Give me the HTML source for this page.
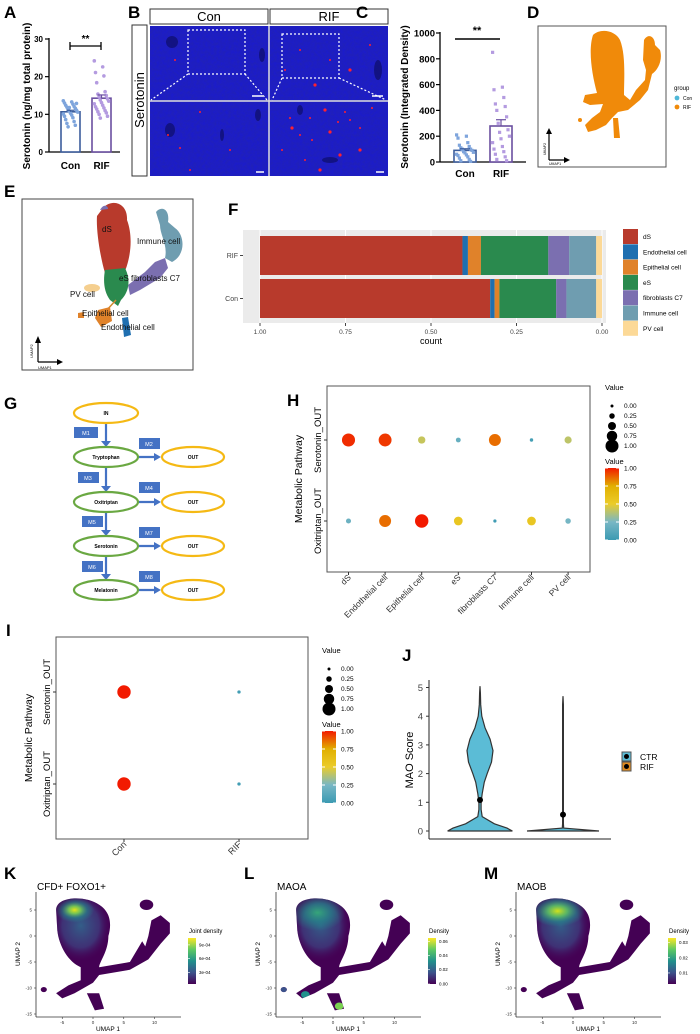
<!DOCTYPE html>
<html><head><meta charset="utf-8">
<style>
html,body{margin:0;padding:0;background:#fff;}
svg{display:block;font-family:"Liberation Sans",Arial,sans-serif;}
.pl{font-weight:bold;font-size:17px;fill:#000;}
</style></head>
<body>
<svg id="fig" width="700" height="1034" viewBox="0 0 700 1034" xmlns="http://www.w3.org/2000/svg">
<defs>
  <filter id="tex" x="0" y="0" width="100%" height="100%">
    <feTurbulence type="fractalNoise" baseFrequency="0.35" numOctaves="2" seed="3"/>
    <feColorMatrix type="matrix" values="0 0 0 0 0.02  0 0 0 0 0.02  0 0 0 0 0.35  0 0 0 0.6 0"/>
  </filter>
  <linearGradient id="zis" x1="0" y1="1" x2="0" y2="0">
    <stop offset="0" stop-color="#3B9AB2"/><stop offset="0.25" stop-color="#78B7C5"/>
    <stop offset="0.5" stop-color="#EBCC2A"/><stop offset="0.75" stop-color="#E1AF00"/>
    <stop offset="1" stop-color="#F21A00"/>
  </linearGradient>
  <linearGradient id="vir" x1="0" y1="1" x2="0" y2="0">
    <stop offset="0" stop-color="#440154"/><stop offset="0.25" stop-color="#3b528b"/>
    <stop offset="0.5" stop-color="#21918c"/><stop offset="0.75" stop-color="#5ec962"/>
    <stop offset="1" stop-color="#fde725"/>
  </linearGradient>
  <radialGradient id="body"><stop offset="0" stop-color="#31688e" stop-opacity="0.9"/><stop offset="0.6" stop-color="#3b528b" stop-opacity="0.6"/><stop offset="1" stop-color="#440154" stop-opacity="0"/></radialGradient>
  <radialGradient id="glowK"><stop offset="0" stop-color="#e6e419"/><stop offset="0.3" stop-color="#7ad151" stop-opacity="0.9"/><stop offset="0.65" stop-color="#21918c" stop-opacity="0.5"/><stop offset="1" stop-color="#21918c" stop-opacity="0"/></radialGradient>
  <radialGradient id="glowL"><stop offset="0" stop-color="#35b779" stop-opacity="0.85"/><stop offset="0.5" stop-color="#21918c" stop-opacity="0.6"/><stop offset="1" stop-color="#21918c" stop-opacity="0"/></radialGradient>
  <radialGradient id="glowM"><stop offset="0" stop-color="#d2e21b"/><stop offset="0.35" stop-color="#5ec962" stop-opacity="0.85"/><stop offset="0.7" stop-color="#21918c" stop-opacity="0.5"/><stop offset="1" stop-color="#21918c" stop-opacity="0"/></radialGradient>
  <clipPath id="umapClip">
    <path d="M-6,5 C-6,7.8 -1,7.8 1,6 C3,4.5 3,2 2.5,0 C2.5,-3 1,-5 1,-6 L6,-5 L7,-3 L8,-1 L8.5,-2 L9,0 L9.5,3 L11,4 L12.5,2.5 L12.5,0.5 L11,-1.5 L10,-3 L9,-4.5 L6,-6.5 L1,-7.5 L0,-9 L-3,-11 L-5,-12 L-6,-11 L-4,-9.5 L-2,-8.5 L-2,-6 C-4,-5 -5.5,-2 -5.8,1 Z"/>
    <path d="M-1,-11 L1,-11 L1.8,-14 L0.3,-14.3 Z"/>
    <ellipse cx="8.7" cy="6" rx="1.1" ry="1"/>
    <ellipse cx="-8" cy="-10.3" rx="0.5" ry="0.5"/>
  </clipPath>
</defs>

<!-- Panel A -->
<text class="pl" x="4" y="18">A</text>
<g id="panelA">
  <text transform="translate(30,96) rotate(-90)" text-anchor="middle" font-size="10" font-weight="bold">Serotonin (ng/mg total protein)</text>
  <line x1="49" y1="38" x2="49" y2="152" stroke="#000" stroke-width="1.3"/>
  <line x1="49" y1="152" x2="120" y2="152" stroke="#000" stroke-width="1.3"/>
</g>

<!-- Panel B -->
<text class="pl" x="128" y="18">B</text>
<g>
  <rect x="150" y="9" width="118" height="15" fill="#fff" stroke="#333"/>
  <text x="209" y="21" text-anchor="middle" font-size="13">Con</text>
  <rect x="270" y="9" width="118" height="15" fill="#fff" stroke="#333"/>
  <text x="329" y="21" text-anchor="middle" font-size="13">RIF</text>
  <rect x="132" y="25" width="15" height="151" fill="#fff" stroke="#333"/>
  <text transform="translate(144,100) rotate(-90)" text-anchor="middle" font-size="13">Serotonin</text>
  <g>
    <rect x="150" y="26" width="238" height="150" fill="#1a1ad0"/>
    <rect x="150" y="26" width="238" height="150" filter="url(#tex)"/>
    <g fill="#0a0a50" opacity="0.55">
      <ellipse cx="172" cy="42" rx="6" ry="6"/><ellipse cx="262" cy="55" rx="3" ry="7"/>
      <ellipse cx="378" cy="70" rx="4" ry="10"/><ellipse cx="170" cy="130" rx="5" ry="7"/>
      <ellipse cx="222" cy="135" rx="2" ry="6"/><ellipse cx="258" cy="115" rx="3" ry="6"/>
      <ellipse cx="330" cy="160" rx="8" ry="3"/><ellipse cx="300" cy="110" rx="3" ry="5"/>
    </g>
    <line x1="150" y1="101" x2="388" y2="101" stroke="#ddd" stroke-width="1.5"/>
    <line x1="269" y1="26" x2="269" y2="176" stroke="#ddd" stroke-width="1.5"/>
    <rect x="188" y="30" width="57" height="44" fill="none" stroke="#fff" stroke-dasharray="2,2" stroke-width="1.2"/>
    <path d="M188,74 L151,100 M245,74 L267,100" stroke="#fff" stroke-dasharray="2,2" stroke-width="1.2"/>
    <rect x="282" y="34" width="57" height="44" fill="none" stroke="#fff" stroke-dasharray="2,2" stroke-width="1.2"/>
    <path d="M282,78 L272,100 M339,78 L386,100" stroke="#fff" stroke-dasharray="2,2" stroke-width="1.2"/>
    <line x1="252" y1="96" x2="263" y2="96" stroke="#fff" stroke-width="1.5"/>
    <line x1="372" y1="96" x2="383" y2="96" stroke="#fff" stroke-width="1.5"/>
    <line x1="256" y1="172" x2="264" y2="172" stroke="#fff" stroke-width="1.5"/>
    <line x1="376" y1="172" x2="384" y2="172" stroke="#fff" stroke-width="1.5"/>
    <g id="redDots" fill="#ff2030"></g>
  </g>
</g>

<!-- Panel C -->
<text class="pl" x="356" y="18">C</text>
<g id="panelC">
  <text transform="translate(408,97) rotate(-90)" text-anchor="middle" font-size="10" font-weight="bold">Serotonin (Integrated Density)</text>
  <line x1="440" y1="32" x2="440" y2="162" stroke="#000" stroke-width="1.3"/>
  <line x1="440" y1="162" x2="526" y2="162" stroke="#000" stroke-width="1.3"/>
</g>

<!-- Panel D -->
<text class="pl" x="527" y="18">D</text>
<g>
  <rect x="538" y="26" width="128" height="141" fill="#fff" stroke="#555"/>
  <path d="M593,35 C600,28 615,30 620,40 C626,55 624,80 624,95 L630,100 L636,90 L645,80 L646,70 L643,60 L644,40 C648,33 655,36 655,45 L660,50 C663,60 658,70 652,74 L648,90 L640,100 L628,110 L618,112 L612,118 L606,125 L596,130 L588,132 L585,125 L592,118 L600,112 L603,104 L590,105 L583,102 L585,95 L597,93 C592,75 588,50 593,35 Z" fill="#f08a0a"/>
  <path d="M613,118 L618,118 L620,138 L614,138 Z" fill="#f08a0a"/>
  <circle cx="580" cy="120" r="2" fill="#f08a0a"/>
  <path d="M549,160 L549,131 M549,160 L567,160" stroke="#000" stroke-width="1.2"/>
  <path d="M546,134 L549,128 L552,134 Z M564,157 L570,160 L564,163 Z" fill="#000"/>
  <text x="549" y="165" font-size="3.5">UMAP1</text>
  <text transform="translate(546,155) rotate(-90)" font-size="3.5">UMAP2</text>
  <text x="674" y="90" font-size="6">group</text>
  <circle cx="677" cy="98" r="2.4" fill="#4fb8d8"/>
  <text x="683" y="100" font-size="5">Con</text>
  <circle cx="677" cy="107" r="2.4" fill="#f08a0a"/>
  <text x="683" y="109" font-size="5">RIF</text>
</g>

<!-- Panel E -->
<text class="pl" x="4" y="197">E</text>
<g>
  <rect x="22" y="199" width="171" height="171" fill="#fff" stroke="#444"/>
  <path d="M156,212 C162,205 170,210 168,222 L175,228 C185,235 186,255 172,262 L165,258 C168,245 160,235 160,225 Z" fill="#6f9db0"/>
  <path d="M128,285 L145,272 L155,262 L165,258 L168,268 L160,278 L140,290 L130,295 Z" fill="#7b6fb0"/>
  <path d="M103,208 C112,198 128,203 127,220 C133,236 131,256 125,271 L105,273 C100,256 96,230 97,216 Z" fill="#b83a2c"/>
  <path d="M100,210 C103,204 108,205 108,209 Z" fill="#7b6fb0"/>
  <path d="M105,270 L125,268 C131,280 129,292 121,300 L118,306 L110,300 C104,292 103,281 105,270 Z" fill="#2a8a4e"/>
  <ellipse cx="92" cy="288" rx="8" ry="4" fill="#f5cf8f"/>
  <path d="M116,300 L106,311" stroke="#d08a30" stroke-width="1.5"/>
  <path d="M98,310 L110,307 L112,321 L101,327 L95,318 Z M78,313 L84,312 L84,318 L78,318 Z" fill="#e0822a"/>
  <path d="M122,318 L128,317 L131,335 L124,337 Z" fill="#1f6fb0"/>
  <g font-size="8" fill="#111">
    <text x="102" y="232">dS</text>
    <text x="137" y="244">Immune cell</text>
    <text x="119" y="281">eS  fibroblasts C7</text>
    <text x="70" y="297">PV cell</text>
    <text x="82" y="316">Epithelial cell</text>
    <text x="101" y="330">Endothelial cell</text>
  </g>
  <path d="M38,362 L38,340 M38,362 L60,362" stroke="#000" stroke-width="1.2"/>
  <path d="M35,343 L38,336 L41,343 Z M57,359 L63,362 L57,365 Z" fill="#000"/>
  <text x="38" y="369" font-size="4">UMAP1</text>
  <text transform="translate(33,358) rotate(-90)" font-size="4">UMAP2</text>
</g>

<!-- Panel F -->
<text class="pl" x="228" y="215">F</text>
<g id="panelF">
  <rect x="243" y="230" width="363" height="93" fill="#ebebeb"/>
  <text x="431" y="344" font-size="9" text-anchor="middle">count</text>
</g>

<!-- Panel G -->
<text class="pl" x="4" y="409">G</text>
<g font-size="5" font-weight="bold" text-anchor="middle">
  <g stroke="#4472c4" stroke-width="2.2" fill="none">
    <line x1="106" y1="423" x2="106" y2="442"/><line x1="106" y1="467" x2="106" y2="487"/>
    <line x1="106" y1="512" x2="106" y2="531"/><line x1="106" y1="556" x2="106" y2="575"/>
    <line x1="138" y1="457" x2="155" y2="457"/><line x1="138" y1="502" x2="155" y2="502"/>
    <line x1="138" y1="546" x2="155" y2="546"/><line x1="138" y1="590" x2="155" y2="590"/>
  </g>
  <g fill="#4472c4">
    <path d="M101,441 L111,441 L106,447 Z"/><path d="M101,486 L111,486 L106,492 Z"/>
    <path d="M101,530 L111,530 L106,536 Z"/><path d="M101,574 L111,574 L106,580 Z"/>
    <path d="M154,453 L161,457 L154,461 Z"/><path d="M154,498 L161,502 L154,506 Z"/>
    <path d="M154,542 L161,546 L154,550 Z"/><path d="M154,586 L161,590 L154,594 Z"/>
    <rect x="74" y="427" width="24" height="11"/><rect x="139" y="438" width="21" height="11"/>
    <rect x="78" y="472" width="21" height="11"/><rect x="139" y="482" width="21" height="11"/>
    <rect x="82" y="516" width="21" height="11"/><rect x="139" y="527" width="21" height="11"/>
    <rect x="82" y="561" width="21" height="11"/><rect x="139" y="571" width="21" height="11"/>
  </g>
  <g fill="#fff" font-weight="normal" font-size="5.5">
    <text x="86" y="435">M1</text><text x="149" y="446">M2</text>
    <text x="88" y="480">M3</text><text x="149" y="490">M4</text>
    <text x="92" y="524">M5</text><text x="149" y="535">M7</text>
    <text x="92" y="569">M6</text><text x="149" y="579">M8</text>
  </g>
  <g fill="#fff" stroke-width="2.2">
    <ellipse cx="106" cy="413" rx="32" ry="10" stroke="#f5b914"/>
    <ellipse cx="106" cy="457" rx="32" ry="10" stroke="#6aa842"/>
    <ellipse cx="106" cy="502" rx="32" ry="10" stroke="#6aa842"/>
    <ellipse cx="106" cy="546" rx="32" ry="10" stroke="#6aa842"/>
    <ellipse cx="106" cy="590" rx="32" ry="10" stroke="#6aa842"/>
    <ellipse cx="193" cy="457" rx="31" ry="10" stroke="#f5b914"/>
    <ellipse cx="193" cy="502" rx="31" ry="10" stroke="#f5b914"/>
    <ellipse cx="193" cy="546" rx="31" ry="10" stroke="#f5b914"/>
    <ellipse cx="193" cy="590" rx="31" ry="10" stroke="#f5b914"/>
  </g>
  <text x="106" y="415">IN</text><text x="106" y="459">Tryptophan</text><text x="106" y="504">Oxitriptan</text>
  <text x="106" y="548">Serotonin</text><text x="106" y="592">Melatonin</text>
  <text x="193" y="459">OUT</text><text x="193" y="504">OUT</text><text x="193" y="548">OUT</text><text x="193" y="592">OUT</text>
</g>

<!-- Panel H -->
<text class="pl" x="287" y="406">H</text>
<g id="panelH">
  <rect x="327" y="386" width="263" height="186" fill="#fff" stroke="#555" stroke-width="1"/>
  <text transform="translate(302,479) rotate(-90)" text-anchor="middle" font-size="10.5">Metabolic Pathway</text>
</g>

<!-- Panel I -->
<text class="pl" x="6" y="636">I</text>
<g id="panelI">
  <rect x="56" y="637" width="252" height="202" fill="#fff" stroke="#555" stroke-width="1"/>
  <text transform="translate(32,738) rotate(-90)" text-anchor="middle" font-size="10.5">Metabolic Pathway</text>
</g>

<!-- Panel J -->
<text class="pl" x="402" y="661">J</text>
<g id="panelJ">
  <line x1="429" y1="680" x2="429" y2="839" stroke="#222" stroke-width="1"/>
  <line x1="429" y1="839" x2="611" y2="839" stroke="#222" stroke-width="1"/>
  <text transform="translate(413,760) rotate(-90)" text-anchor="middle" font-size="11">MAO  Score</text>
  <rect x="622" y="752" width="9" height="9" fill="#5bbcd6" stroke="#555"/>
  <circle cx="626.5" cy="756.5" r="2.5" fill="#000"/>
  <rect x="622" y="762" width="9" height="9" fill="#e08a20" stroke="#555"/>
  <circle cx="626.5" cy="766.5" r="2.5" fill="#000"/>
  <text x="640" y="760" font-size="8.5">CTR</text>
  <text x="640" y="770" font-size="8.5">RIF</text>
</g>

<!-- Panels K L M -->
<g id="umapPanels"></g>
</svg>

<script>
// ---------- data ----------
const aCategories = ["Con", "RIF"];
const aConValues = [13.6,13.3,13.0,12.7,12.4,12.1,11.9,11.6,11.3,11.1,10.9,10.6,10.3,10.1,9.8,9.5,9.1,8.6,8.1,7.6,7.1,6.7,12.9,11.8];
const aRifValues = [24.2,22.6,21.1,20.2,18.4,16.0,15.4,15.0,14.6,14.1,13.8,13.5,13.1,12.8,12.4,12.0,11.7,11.4,11.0,10.7,10.4,10.0,9.5,9.0];
const aTicks = [0,10,20,30];

const cConValues = [210,200,185,150,130,120,110,100,95,90,80,75,70,60,55,50,40,30,20,10,5,100];
const cRifValues = [850,580,560,500,450,430,400,350,300,250,230,200,180,150,120,100,80,60,40,20,10];
const cTicks = [0,200,400,600,800,1000];

const fGroups = ["RIF", "Con"];
const fCellTypes = ["dS","Endothelial cell","Epithelial cell","eS","fibroblasts C7","Immune cell","PV cell"];
const fRif = [0.592,0.016,0.038,0.197,0.061,0.079,0.017];
const fCon = [0.673,0.013,0.014,0.166,0.030,0.087,0.017];
const fTicks = [1.00,0.75,0.50,0.25,0.00];

const hCategories = ["dS","Endothelial cell","Epithelial cell","eS","fibroblasts C7","Immune cell","PV cell"];
const hPathways = ["Serotonin_OUT","Oxitriptan_OUT"];
const hSerotonin = [0.97,0.95,0.42,0.18,0.86,0.04,0.40];
const hOxitriptan = [0.20,0.86,1.00,0.55,0.02,0.55,0.24];
const legendValues = [0.00,0.25,0.50,0.75,1.00];

const iCategories = ["Con","RIF"];
const iSerotonin = [1.0,0.03];
const iOxitriptan = [1.0,0.03];

const jGroups = ["CTR","RIF"];
const jLevels = [0,0.1,0.25,0.5,0.75,1,1.3,1.7,2.0,2.4,2.8,3.2,3.6,4.0,4.4,4.8,5.05];
const jCtrDensity = [0.9,0.75,0.4,0.06,0.03,0.03,0.06,0.12,0.2,0.32,0.36,0.28,0.14,0.05,0.02,0.01,0.0];
const jRifDensity = [1.0,0.02,0.01,0.01,0.01,0.01,0.01,0.01,0.01,0.01,0.01,0.01,0.01,0.01,0.01,0.01,0.0];
const jMax = [5.05,4.7];
const jMeans = [1.08,0.57];
const jTicks = [0,1,2,3,4,5];

const kTitles = ["CFD+ FOXO1+","MAOA","MAOB"];
const kLetters = ["K","L","M"];
const kLegendTitles = ["Joint density","Density","Density"];
const kLegendLabels = [["9e-04","6e-04","3e-04"],["0.06","0.04","0.02","0.00"],["0.03","0.02","0.01"]];
const kLegendFracs = [[0.85,0.55,0.25],[0.92,0.62,0.31,0.0],[0.9,0.57,0.24]];
const kXTicks = [-5,0,5,10];
const kYTicks = [5,0,-5,-10,-15];

// ---------- helpers ----------
const NS = "http://www.w3.org/2000/svg";
function mk(tag, parent, attrs) {
  const e = document.createElementNS(NS, tag);
  for (const k in attrs) e.setAttribute(k, attrs[k]);
  parent.appendChild(e);
  return e;
}
function txt(parent, x, y, s, size, anchor, extra) {
  const t = mk("text", parent, Object.assign({x:x, y:y, "font-size":size, "text-anchor":anchor||"start"}, extra||{}));
  t.textContent = s;
  return t;
}
function zis(v) {
  const stops = [[0,[59,154,178]],[0.25,[120,183,197]],[0.5,[235,204,42]],[0.75,[225,175,0]],[1,[242,26,0]]];
  for (let i=1;i<stops.length;i++){
    if (v <= stops[i][0]) {
      const a=stops[i-1], b=stops[i], t=(v-a[0])/(b[0]-a[0]);
      const c=a[1].map((x,j)=>Math.round(x+(b[1][j]-x)*t));
      return "rgb("+c.join(",")+")";
    }
  }
  return "rgb(242,26,0)";
}
function mean(a){return a.reduce((s,v)=>s+v,0)/a.length;}
function sem(a){const m=mean(a);return Math.sqrt(a.reduce((s,v)=>s+(v-m)*(v-m),0)/(a.length-1))/Math.sqrt(a.length);}

// ---------- Panel A ----------
(function(){
  const g = document.getElementById("panelA");
  const yA = v => 152 - v*(113/30);
  const xA = i => [70.5, 101.5][i];
  aTicks.forEach(t=>{
    mk("line", g, {x1:45,y1:yA(t),x2:49,y2:yA(t),stroke:"#000","stroke-width":1.2});
    const tl = txt(g, 43, yA(t)+3, String(t), 8, "end", {"font-weight":"bold"});
    
    
  });
  const sets=[aConValues,aRifValues], cols=["#3c5d9c","#6a4fa0"], dots=["#7fa5dc","#b49be0"];
  sets.forEach((vals,i)=>{
    const m=mean(vals), s=sem(vals);
    const bar = mk("rect", g, {x:xA(i)-9.5,y:yA(m),width:19,height:152-yA(m),fill:"#fff",stroke:cols[i],"stroke-width":1.6});
    
    
    vals.forEach((v,j)=>{
      const d = mk("circle", g, {cx:xA(i)+((j*7)%13-6)*1.2,cy:yA(v),r:1.8,fill:dots[i]});
      
      
    });
    mk("line", g, {x1:xA(i),y1:yA(m+s),x2:xA(i),y2:yA(m),stroke:cols[i],"stroke-width":1.2});
    mk("line", g, {x1:xA(i)-4,y1:yA(m+s),x2:xA(i)+4,y2:yA(m+s),stroke:cols[i],"stroke-width":1.2});
    const lab = txt(g, xA(i), 169, aCategories[i], 10, "middle", {"font-weight":"bold"});
    
    
  });
  mk("path", g, {d:"M70,42 L70,50 M70,46 L101,46 M101,42 L101,50",stroke:"#000","stroke-width":1.3,fill:"none"});
  txt(g, 85.5, 42, "**", 10, "middle", {"font-weight":"bold"});
})();

// ---------- Panel B red dots ----------
(function(){
  const g = document.getElementById("redDots");
  const conDots=[[168,135],[180,148],[190,170],[230,150],[200,112],[175,60]];
  const rifDots=[[292,128],[300,135],[312,140],[325,110],[350,120],[360,128],[340,155],[305,160],[290,118],[330,132],[345,112],[310,118],[360,150],[300,50],[330,60],[350,70],[370,45],[285,70],[315,85],[372,108],[282,150],[320,170],[338,122]];
  conDots.concat(rifDots).forEach((p,i)=>{ mk("circle", g, {cx:p[0],cy:p[1],r: i>5 && i%3==0 ? 1.6 : 1}); });
})();

// ---------- Panel C ----------
(function(){
  const g = document.getElementById("panelC");
  const yC = v => 162 - v*0.129;
  const xC = i => [465, 501][i];
  cTicks.forEach(t=>{
    mk("line", g, {x1:436,y1:yC(t),x2:440,y2:yC(t),stroke:"#000","stroke-width":1.2});
    const tl = txt(g, 435, yC(t)+3.5, String(t), 9.5, "end", {"font-weight":"bold"});
    
    
  });
  const sets=[cConValues,cRifValues], cols=["#3c5d9c","#6a4fa0"], dots=["#7fa5dc","#b49be0"];
  sets.forEach((vals,i)=>{
    const m=mean(vals), s=sem(vals);
    const bar = mk("rect", g, {x:xC(i)-11,y:yC(m),width:22,height:162-yC(m),fill:"#fff",stroke:cols[i],"stroke-width":1.6});
    
    
    vals.forEach((v,j)=>{
      const d = mk("rect", g, {x:xC(i)+((j*7)%13-6)*1.4-1.6,y:yC(v)-1.6,width:3.2,height:3.2,fill:dots[i]});
      
      
    });
    mk("line", g, {x1:xC(i),y1:yC(m+s),x2:xC(i),y2:yC(m),stroke:cols[i],"stroke-width":1.2});
    mk("line", g, {x1:xC(i)-5,y1:yC(m+s),x2:xC(i)+5,y2:yC(m+s),stroke:cols[i],"stroke-width":1.2});
    const lab = txt(g, xC(i), 177, aCategories[i], 10, "middle", {"font-weight":"bold"});
    
    
  });
  mk("line", g, {x1:455,y1:39,x2:500,y2:39,stroke:"#000","stroke-width":1.5});
  txt(g, 477, 34, "**", 11, "middle", {"font-weight":"bold"});
})();

// ---------- Panel F ----------
(function(){
  const g = document.getElementById("panelF");
  const fColors = ["#b83a2c","#1f6fb0","#e0822a","#2a8a4e","#7b6fb0","#6f9db0","#fcd997"];
  const xF = v => 602 - v*342;
  const yCenter = i => [255.5, 298.5][i];
  fTicks.forEach(t=>{
    mk("line", g, {x1:xF(t),y1:230,x2:xF(t),y2:323,stroke:"#fff","stroke-width":1});
    mk("line", g, {x1:xF(t),y1:323,x2:xF(t),y2:326,stroke:"#444","stroke-width":1});
    const tl = txt(g, xF(t), 334, t.toFixed(2), 6.5, "middle", {fill:"#444"});
    
    
  });
  [fRif, fCon].forEach((vals,gi)=>{
    let cum = 1;
    vals.forEach((v,ci)=>{
      const r = mk("rect", g, {x:xF(cum),y:yCenter(gi)-19.5,width:v*342,height:39,fill:fColors[ci]});
      
      
      cum -= v;
    });
    mk("line", g, {x1:240,y1:yCenter(gi),x2:243,y2:yCenter(gi),stroke:"#444"});
    const gl = txt(g, 238, yCenter(gi)+2.5, fGroups[gi], 7, "end", {fill:"#444"});
    
    
  });
  fCellTypes.forEach((c,i)=>{
    const k = mk("rect", g, {x:623,y:229+i*15.3,width:15,height:15,fill:fColors[i]});
    
    
    const l = txt(g, 643, 239+i*15.3, c, 6.5, "start");
    
    
  });
})();

// ---------- Dot plot legend (H, I) ----------
function dotLegend(g, x, y) {
  txt(g, x, y, "Value", 7.5, "start");
  legendValues.forEach((v,i)=>{
    const c = mk("circle", g, {cx:x+7,cy:y+16+i*10,r:1.5+v*5,fill:"#000"});
    
    
    txt(g, x+19, y+18+i*10, v.toFixed(2), 6.5, "start");
  });
  txt(g, x, y+74, "Value", 7.5, "start");
  const cb = mk("rect", g, {x:x,y:y+78,width:14,height:72,fill:"url(#zis)"});
  
  
  legendValues.forEach(v=>{
    txt(g, x+19, y+150-v*72+2.5, v.toFixed(2), 6.5, "start");
    mk("line", g, {x1:x,y1:y+150-v*72,x2:x+3,y2:y+150-v*72,stroke:"#fff"});
    mk("line", g, {x1:x+11,y1:y+150-v*72,x2:x+14,y2:y+150-v*72,stroke:"#fff"});
  });
}

// ---------- Panel H ----------
(function(){
  const g = document.getElementById("panelH");
  const xH = i => 348.5 + i*36.6;
  const yH = i => [440, 521][i];
  [hSerotonin, hOxitriptan].forEach((vals,ri)=>{
    mk("line", g, {x1:324,y1:yH(ri),x2:327,y2:yH(ri),stroke:"#333"});
    const rl = txt(g, 0, 0, hPathways[ri], 9.5, "middle", {transform:"translate(321,"+yH(ri)+") rotate(-90)"});
    
    
    vals.forEach((v,ci)=>{
      const c = mk("circle", g, {cx:xH(ci),cy:yH(ri),r:1.5+v*5.2,fill:zis(v)});
      
      
    });
  });
  hCategories.forEach((c,i)=>{
    mk("line", g, {x1:xH(i),y1:572,x2:xH(i),y2:575,stroke:"#333"});
    const l = txt(g, 0, 0, c, 8.5, "end", {transform:"translate("+(xH(i)+3)+",578) rotate(-45)",fill:"#333"});
    
    
  });
  dotLegend(g, 605, 390);
})();

// ---------- Panel I ----------
(function(){
  const g = document.getElementById("panelI");
  const xI = i => [124, 239][i];
  const yI = i => [692, 784][i];
  [iSerotonin, iOxitriptan].forEach((vals,ri)=>{
    mk("line", g, {x1:53,y1:yI(ri),x2:56,y2:yI(ri),stroke:"#333"});
    const rl = txt(g, 0, 0, hPathways[ri], 9.5, "middle", {transform:"translate(50,"+yI(ri)+") rotate(-90)"});
    
    
    vals.forEach((v,ci)=>{
      const c = mk("circle", g, {cx:xI(ci),cy:yI(ri),r:1.5+v*5.2,fill:zis(v)});
      
      
    });
  });
  iCategories.forEach((c,i)=>{
    mk("line", g, {x1:xI(i),y1:839,x2:xI(i),y2:842,stroke:"#333"});
    const l = txt(g, 0, 0, c, 9, "end", {transform:"translate("+(xI(i)+3)+",845) rotate(-45)",fill:"#333"});
    
    
  });
  dotLegend(g, 322, 653);
})();

// ---------- Panel J ----------
(function(){
  const g = document.getElementById("panelJ");
  const yJ = v => 831 - v*28.7;
  const xJ = i => [480, 563][i];
  jTicks.forEach(t=>{
    mk("line", g, {x1:426,y1:yJ(t),x2:429,y2:yJ(t),stroke:"#333"});
    const tl = txt(g, 423, yJ(t)+3.5, String(t), 9.5, "end", {fill:"#444"});
    
    
  });
  const halfW = 36;
  [jCtrDensity, jRifDensity].forEach((dens,gi)=>{
    const cx = xJ(gi);
    let right = [], left = [];
    jLevels.forEach((lv,k)=>{
      if (lv > jMax[gi]) return;
      right.push((cx+dens[k]*halfW).toFixed(1)+","+yJ(lv).toFixed(1));
      left.unshift((cx-dens[k]*halfW).toFixed(1)+","+yJ(lv).toFixed(1));
    });
    right.push(cx+","+yJ(jMax[gi]).toFixed(1));
    const p = mk("path", g, {d:"M"+right.concat(left).join(" L")+" Z",fill:"#5bbcd6",stroke:"#333","stroke-width":1.2});
    
    
    const m = mk("circle", g, {cx:cx,cy:yJ(jMeans[gi]),r:3,fill:"#000"});
    
    
  });
})();

// ---------- Panels K L M ----------
(function(){
  const root = document.getElementById("umapPanels");
  const glows = ["url(#glowK)","url(#glowL)","url(#glowM)"];
  const glowAttrs = [[-3,5,3.2,2.4],[-2.5,4.5,4.5,3.5],[-2.5,4.8,4.5,3]];
  for (let p=0;p<3;p++){
    const off = p*240;
    const g = mk("g", root, {});
    
    
    const L = txt(g, 4+off, 879, kLetters[p], 17, "start", {"font-weight":"bold"});
    
    
    const T = txt(g, 37+off, 890, kTitles[p], 10, "start");
    
    
    const xU = v => 93 + off + v*6.15;
    const yU = v => 936 - v*5.2;
    const plot = mk("g", g, {transform:"translate("+xU(0)+","+yU(0)+") scale(6.15,-5.2)"});
    const cl = mk("g", plot, {"clip-path":"url(#umapClip)"});
    mk("rect", cl, {x:-10,y:-16,width:25,height:25,fill:"#440154"});
    const ga = glowAttrs[p];
    mk("ellipse", cl, {cx:-2,cy:2,rx:5,ry:7,fill:"url(#body)"});
    mk("ellipse", cl, {cx:ga[0],cy:ga[1],rx:ga[2],ry:ga[3],fill:glows[p]});
    if (p==1){ mk("circle", cl, {cx:1,cy:-13.5,r:0.7,fill:"#7ad151"}); mk("circle", cl, {cx:-4.5,cy:-11.3,r:0.7,fill:"#21918c"}); mk("circle", cl, {cx:-8,cy:-10.3,r:0.5,fill:"#3b528b"}); }
    mk("line", g, {x1:36+off,y1:892,x2:36+off,y2:1017,stroke:"#333","stroke-width":0.8});
    mk("line", g, {x1:36+off,y1:1017,x2:181+off,y2:1017,stroke:"#333","stroke-width":0.8});
    kXTicks.forEach(t=>{
      mk("line", g, {x1:xU(t),y1:1017,x2:xU(t),y2:1019,stroke:"#333","stroke-width":0.6});
      const tl = txt(g, xU(t), 1024, String(t), 4.5, "middle", {fill:"#333"});
      
      
    });
    kYTicks.forEach(t=>{
      mk("line", g, {x1:34+off,y1:yU(t),x2:36+off,y2:yU(t),stroke:"#333","stroke-width":0.6});
      const tl = txt(g, 32+off, yU(t)+1.5, String(t), 4.5, "end", {fill:"#333"});
      
      
    });
    const xl = txt(g, 108+off, 1031, "UMAP 1", 6.5, "middle");
    
    
    const yl = txt(g, 0, 0, "UMAP 2", 6.5, "middle", {transform:"translate("+(20+off)+",954) rotate(-90)"});
    
    
    const lt = txt(g, 189+off, 933, kLegendTitles[p], 6, "start");
    
    
    const cb = mk("rect", g, {x:188+off,y:938,width:8,height:46,fill:"url(#vir)"});
    
    
    kLegendLabels[p].forEach((s,i)=>{
      const fy = 984 - kLegendFracs[p][i]*46;
      mk("line", g, {x1:188+off,y1:fy,x2:190+off,y2:fy,stroke:"#fff","stroke-width":0.6});
      txt(g, 199+off, fy+1.5, s, 4.5, "start");
    });
  }
})();
</script>
</body></html>
